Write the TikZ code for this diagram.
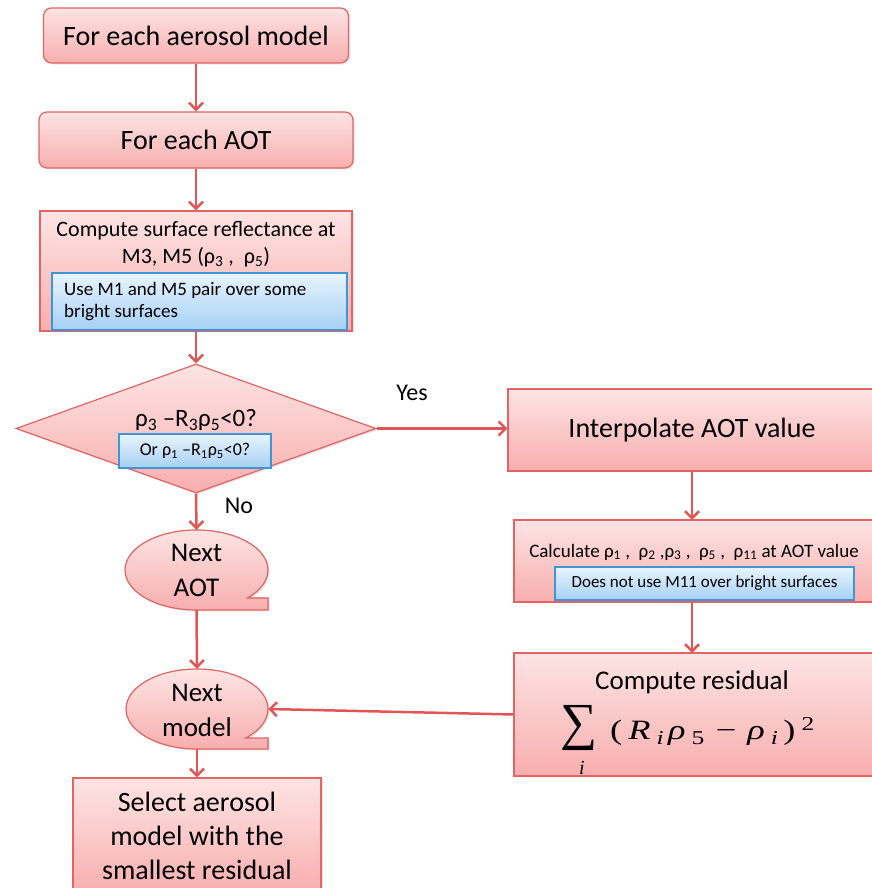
\documentclass[tikz,border=0pt]{standalone}
\usepackage{fontspec}
\setmainfont{Carlito}
\newfontfamily\tms[FakeStretch=1.3]{Liberation Serif}
\newfontfamily\tmsn{Liberation Serif}
\usetikzlibrary{arrows.meta,shapes.geometric,shadows}
\definecolor{pinkT}{HTML}{FDE4E4}
\definecolor{pinkB}{HTML}{F8AEAE}
\definecolor{redE}{HTML}{E26464}
\definecolor{blueT}{HTML}{E8F4FE}
\definecolor{blueB}{HTML}{A6D0F4}
\definecolor{blueE}{HTML}{3F95D6}
\definecolor{arr}{HTML}{E25555}
\newcommand\fsz[2]{\fontsize{#1}{#2}\selectfont}
\newcommand\sbs[1]{\textsubscript{#1}}
\begin{document}
\begin{tikzpicture}[x=1pt,y=1pt,
  pinkbox/.style={draw=redE, line width=1.2pt, top color=pinkT, bottom color=pinkB, inner sep=0pt,
    drop shadow={opacity=0.22,shadow xshift=1.5pt,shadow yshift=-1.5pt}},
  bluebox/.style={draw=blueE, line width=1.2pt, top color=blueT, bottom color=blueB, inner sep=0pt},
  flow/.style={draw=arr, line width=2.5pt, -{Straight Barb[length=7pt,width=14pt]}},
  lbl/.style={inner sep=0pt, align=center}]
\useasboundingbox (0,0) rectangle (871,888);

% left column
\node[pinkbox, rounded corners=8pt, minimum width=305, minimum height=55, font=\fsz{28}{34}] (n1) at (196,852.5) {For each aerosol model};
\node[pinkbox, rounded corners=8pt, minimum width=314, minimum height=56, font=\fsz{28}{34}] (n2) at (196,748) {For each AOT};
\node[pinkbox, minimum width=312, minimum height=120] (n3) at (196,617) {};
\node[lbl, font=\fsz{22}{27}] (t3) at (196,644) {Compute surface reflectance at\\M3, M5 (ρ\sbs{3} ,\ \ ρ\sbs{5})};
\node[bluebox, minimum width=295, minimum height=57] (b3) at (199.5,586.5) {};
\node[inner sep=0pt, anchor=west, align=left, font=\fsz{19}{22}] (tb3) at (64,586) {Use M1 and M5 pair over some\\bright surfaces};

\node[pinkbox, diamond, minimum width=360, minimum height=129] (d) at (196,459.5) {};
\node[lbl, font=\fsz{25}{29}] (td) at (196,468) {ρ\sbs{3} –R\sbs{3}ρ\sbs{5}<0?};
\node[bluebox, minimum width=152, minimum height=34, font=\fsz{18}{20}] (bd) at (195,437) {Or ρ\sbs{1} –R\sbs{1}ρ\sbs{5}<0?};

% Next AOT
\node[ellipse, minimum width=143, minimum height=80, inner sep=0pt] (naot) at (196.5,318) {};
\filldraw[pinkbox] (196.5,278) arc[start angle=270, end angle=-44.4, x radius=71.5, y radius=40]
  -- (268,290) -- (268,278) -- cycle;
\node[lbl, font=\fsz{27}{35}] (tnaot) at (196.5,318) {Next\\AOT};

% Next model
\node[ellipse, minimum width=142, minimum height=80, inner sep=0pt] (nm) at (197,179) {};
\filldraw[pinkbox] (197,139) arc[start angle=270, end angle=-46.5, x radius=71, y radius=40]
  -- (268,150) -- (268,139) -- cycle;
\node[lbl, font=\fsz{27}{35}] (tnm) at (197,178) {Next\\model};

\node[pinkbox, minimum width=248, minimum height=115, align=center, font=\fsz{28}{34}] (sel) at (197,52.5) {Select aerosol\\model with the\\smallest residual};

% right column
\node[pinkbox, minimum width=368, minimum height=82, font=\fsz{28}{32}] (ni) at (692,458) {Interpolate AOT value};
\node[pinkbox, minimum width=362, minimum height=82] (nc) at (695,327) {};
\node[lbl, font=\fsz{19}{23}] (tnc) at (694,336) {Calculate ρ\sbs{1} ,\ \ ρ\sbs{2} ,ρ\sbs{3} ,\ \ ρ\sbs{5} ,\ \ ρ\sbs{11} at AOT value};
\node[bluebox, minimum width=299, minimum height=33, font=\fsz{17}{20}] (bc) at (704.5,304.5) {Does not use M11 over bright surfaces};
\node[pinkbox, minimum width=362, minimum height=123] (nr) at (695,173.5) {};
\node[lbl, font=\fsz{27}{32}] (tnr) at (692,206) {Compute residual};
\node[lbl, font={\tmsn\fsz{52}{56}}] (sum) at (579,160) {∑};
\node[lbl, font={\tmsn\itshape\fsz{20}{24}}] (sumi) at (582,120) {i};
\node[lbl, anchor=base west, font={\tms\fsz{28}{32}}] (expr) at (610,148)
  {(\hspace{6pt}\textit{R}\hspace{6pt}\textsubscript{\textit{i}}\hspace{4pt}\textit{ρ}\hspace{6pt}\textsubscript{5}\hspace{11pt}−\hspace{11pt}\textit{ρ}\hspace{6pt}\textsubscript{\textit{i}}\hspace{5pt})\textsuperscript{\hspace{6pt}2}};

% labels
\node[lbl, font=\fsz{24}{28}] (yes) at (412,495) {Yes};
\node[lbl, font=\fsz{24}{28}] (no) at (239,382) {No};

% connectors
\draw[flow] (n1.south) -- (n2.north);
\draw[flow] (n2.south) -- (n3.north);
\draw[flow] (n3.south) -- (d.north);
\draw[flow] (d.south) -- (naot.north);
\draw[flow] (naot.south) -- (nm.north);
\draw[flow] (nm.south) -- (sel.north);
\draw[flow] (d.east) -- (d.east -| ni.west);
\draw[flow] (ni.south -| 692,0) -- (692,368);
\draw[flow] (692,286) -- (692,235);
\draw[flow] (nr.west) -- (nm.east);
\end{tikzpicture}
\end{document}
